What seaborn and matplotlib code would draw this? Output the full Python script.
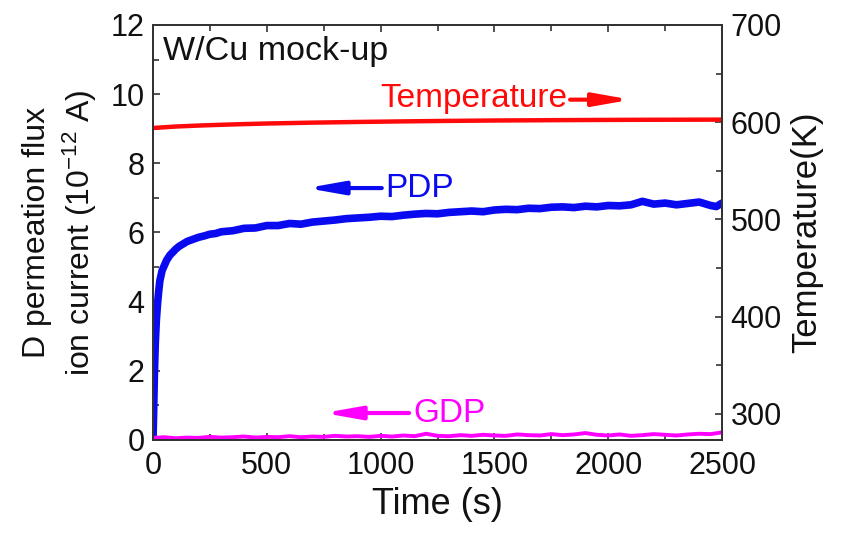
import numpy as np
import pandas as pd
import matplotlib
matplotlib.use("Agg")
import matplotlib.pyplot as plt
import seaborn as sns
from matplotlib.ticker import MultipleLocator

# ---------------- data ----------------
pdp_time = [0, 3, 6, 10, 15, 20, 25, 30, 40, 50, 60, 75, 90, 100, 115, 130, 150, 175, 200, 225, 250,
            275, 300, 350, 400, 450, 500, 550, 600, 650, 700, 750, 800, 850, 900, 950, 1000,
            1050, 1100, 1150, 1200, 1250, 1300, 1350, 1400, 1450, 1500, 1550, 1600, 1650, 1700,
            1750, 1800, 1850, 1900, 1950, 2000, 2050, 2100, 2150, 2200, 2250, 2300, 2350, 2400,
            2450, 2475, 2500]
pdp_current = [0.0, 0.9, 1.9, 2.8, 3.5, 3.95, 4.3, 4.6, 4.9, 5.05, 5.2, 5.35, 5.45, 5.52, 5.6, 5.66,
               5.74, 5.8, 5.86, 5.9, 5.95, 5.97, 6.02, 6.05, 6.12, 6.13, 6.2, 6.2, 6.26, 6.24, 6.3,
               6.33, 6.36, 6.4, 6.42, 6.44, 6.47, 6.46, 6.5, 6.53, 6.55, 6.54, 6.58, 6.6, 6.62,
               6.6, 6.65, 6.67, 6.66, 6.7, 6.69, 6.73, 6.74, 6.72, 6.76, 6.74, 6.78, 6.77, 6.8,
               6.9, 6.82, 6.85, 6.8, 6.84, 6.88, 6.78, 6.75, 6.85]

gdp_time = [0, 50, 100, 150, 200, 250, 300, 350, 400, 450, 500, 550, 600, 650, 700, 750, 800, 850,
            900, 950, 1000, 1050, 1100, 1150, 1200, 1250, 1300, 1350, 1400, 1450, 1500, 1550, 1600,
            1650, 1700, 1750, 1800, 1850, 1900, 1950, 2000, 2050, 2100, 2150, 2200, 2250, 2300,
            2350, 2400, 2450, 2500]
gdp_current = [0.06, 0.08, 0.05, 0.07, 0.06, 0.09, 0.07, 0.08, 0.1, 0.07, 0.09, 0.08, 0.11, 0.08,
               0.1, 0.09, 0.12, 0.1, 0.11, 0.09, 0.12, 0.1, 0.13, 0.11, 0.18, 0.12, 0.11, 0.14,
               0.12, 0.15, 0.13, 0.12, 0.16, 0.14, 0.13, 0.17, 0.14, 0.16, 0.2, 0.15, 0.13, 0.16,
               0.12, 0.14, 0.17, 0.15, 0.13, 0.16, 0.18, 0.17, 0.22]

temp_time = [0, 100, 200, 300, 400, 500, 700, 900, 1100, 1300, 1500, 1800, 2100, 2500]
temperature = [594.0, 595.5, 596.5, 597.3, 598.0, 598.6, 599.5, 600.2, 600.8, 601.3, 601.7, 602.1,
               602.4, 602.6]

x_ticks = [0, 500, 1000, 1500, 2000, 2500]
left_ticks = [0, 2, 4, 6, 8, 10, 12]
right_ticks = [300, 400, 500, 600, 700]

# ---------------- style ----------------
sns.set_theme(style="ticks")
plt.rcParams["font.family"] = ["Liberation Sans", "DejaVu Sans"]
plt.rcParams["mathtext.fontset"] = "custom"
plt.rcParams["mathtext.rm"] = "Liberation Sans"
plt.rcParams["mathtext.it"] = "Liberation Sans:italic"

BLUE = "#0a0af0"
RED = "#ff0a0a"
MAGENTA = "#ff00ff"
SPINE = "#333333"

fig = plt.figure(figsize=(8.43, 5.39), dpi=100)
ax = fig.add_axes([0.1815, 0.1837, 0.675, 0.770])
ax2 = ax.twinx()

pdp = pd.DataFrame({"t": pdp_time, "v": pdp_current})
gdp = pd.DataFrame({"t": gdp_time, "v": gdp_current})
tmp = pd.DataFrame({"t": temp_time, "v": temperature})

sns.lineplot(data=pdp, x="t", y="v", ax=ax, color=BLUE, lw=5.5, estimator=None, sort=False)
sns.lineplot(data=gdp, x="t", y="v", ax=ax, color=MAGENTA, lw=2.8, estimator=None, sort=False)
sns.lineplot(data=tmp, x="t", y="v", ax=ax2, color=RED, lw=3.2, estimator=None, sort=False)

ax.set_xlim(0, 2500)
ax.set_ylim(0, 12)
ax2.set_ylim(273, 700)

ax.set_xticks(x_ticks)
ax.set_yticks(left_ticks)
ax2.set_yticks(right_ticks)
ax.xaxis.set_minor_locator(MultipleLocator(250))
ax.yaxis.set_minor_locator(MultipleLocator(1))
ax2.yaxis.set_minor_locator(MultipleLocator(50))

TICK_FS = 22
ax.tick_params(axis="both", which="both", direction="in", colors=SPINE, labelcolor="#111111",
               labelsize=TICK_FS, width=1.2)
ax.tick_params(axis="x", which="both", top=True, bottom=True, pad=8)
ax.tick_params(axis="y", which="both", left=True, right=False, pad=6)
ax.tick_params(which="major", length=5)
ax.tick_params(which="minor", length=4)
ax2.tick_params(axis="y", which="both", direction="in", right=True, left=False, colors=SPINE,
                labelcolor="#111111", labelsize=TICK_FS, width=1.2, pad=6)
ax2.tick_params(which="major", length=5)
ax2.tick_params(which="minor", length=4)

for a in (ax, ax2):
    for s in a.spines.values():
        s.set_color(SPINE)
        s.set_linewidth(1.4)

ax.set_xlabel("Time (s)", fontsize=26, color="#111111", labelpad=4)
ax.set_ylabel("D permeation flux\nion current (10$^{-12}$ A)", fontsize=23, color="#111111",
              labelpad=8, linespacing=1.3)
ax2.set_ylabel("Temperature(K)", fontsize=25, color="#111111", labelpad=6)

# annotations
ARROW = "-|>,head_length=1.8,head_width=0.32"
ax.text(0.0176, 0.935, "W/Cu mock-up", transform=ax.transAxes, fontsize=24.5, color="#111111",
        ha="left", va="center")
ax.text(0.7276, 0.824, "Temperature", transform=ax.transAxes, fontsize=24, color=RED,
        ha="right", va="center")
ax.annotate("", xy=(0.84, 0.82), xytext=(0.733, 0.82), xycoords="axes fraction",
            arrowprops=dict(arrowstyle=ARROW, color=RED, lw=3, shrinkA=0, shrinkB=0))
ax.text(0.408, 0.607, "PDP", transform=ax.transAxes, fontsize=24, color=BLUE,
        ha="left", va="center")
ax.annotate("", xy=(0.27, 0.607), xytext=(0.402, 0.607), xycoords="axes fraction",
            arrowprops=dict(arrowstyle=ARROW, color=BLUE, lw=3, shrinkA=0, shrinkB=0))
ax.text(0.457, 0.065, "GDP", transform=ax.transAxes, fontsize=24, color=MAGENTA,
        ha="left", va="center")
ax.annotate("", xy=(0.3, 0.065), xytext=(0.45, 0.065), xycoords="axes fraction",
            arrowprops=dict(arrowstyle=ARROW, color=MAGENTA, lw=3, shrinkA=0, shrinkB=0))

fig.savefig("out.png", dpi=100)
